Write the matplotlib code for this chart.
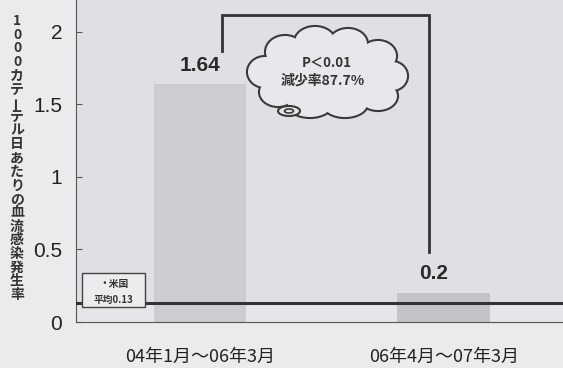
import numpy as np
import matplotlib.pyplot as plt
from matplotlib.patches import Ellipse, Rectangle

# infection rate per 1000 catheter-days, before / after
periods = ['04年1月～06年3月', '06年4月～07年3月']
rates = [1.64, 0.2]
us_mean = 0.13
y_ticks = [0, 0.5, 1, 1.5, 2]
y_label = '1000カテーテル日あたりの血流感染発生率'
p_text = 'P＜0.01'
drop_text = '減少率87.7%'

jp = ['Noto Sans CJK JP', 'DejaVu Sans']

fig = plt.figure(figsize=(5.63, 3.68), dpi=100)
fig.patch.set_facecolor('#ebebee')
ax = fig.add_axes([0.135, 0.125, 0.865, 0.875])
ax.set_facecolor('#dfdfe4')

x = np.arange(len(rates))
ax.bar(x, rates, width=0.38, color=['#cdcdd1', '#c4c4c8'], zorder=2)
ax.set_xlim(-0.51, 1.49)
ax.set_ylim(0, 2.22)

# band below the US mean line
ax.axhspan(0, us_mean, color='#e6e6ea', zorder=1)
ax.bar(x, [us_mean] * len(x), width=0.38, color=['#d8d8dc', '#cfcfd3'], zorder=1.5)
ax.axhline(us_mean, color='#333333', lw=2.2, zorder=3)

for s in ['top', 'right']:
    ax.spines[s].set_visible(False)
ax.spines['left'].set_color('#555555')
ax.spines['bottom'].set_color('#555555')

ax.set_yticks(y_ticks)
ax.set_yticklabels(['0', '0.5', '1', '1.5', '2'], fontsize=15, family='Liberation Sans',
                   color='#222222')
ax.tick_params(axis='y', direction='in', length=4, pad=10, color='#555555')
ax.set_xticks(x)
ax.set_xticklabels(periods, family=jp, fontsize=13, color='#222222')
ax.tick_params(axis='x', length=0, pad=19)

# value labels
ax.text(x[0], rates[0] + 0.06, f'{rates[0]:.2f}', ha='center', va='bottom',
        fontsize=15, fontweight='bold', family='Liberation Sans', color='#2a2a2a')
ax.text(x[1] - 0.04, rates[1] + 0.07, f'{rates[1]:.1f}', ha='center', va='bottom',
        fontsize=15, fontweight='bold', family='Liberation Sans', color='#2a2a2a')

# comparison bracket
ax.plot([x[0] + 0.09, x[0] + 0.09, x[1] - 0.06, x[1] - 0.06],
        [1.87, 2.12, 2.12, 0.48], color='#333333', lw=2, zorder=3,
        solid_joinstyle='miter')

# legend box for the US mean
ax.add_patch(Rectangle((-0.485, 0.1), 0.26, 0.24, facecolor='#ececef',
                       edgecolor='#444444', lw=1, zorder=4))
ax.text(-0.355, 0.262, '・米国', ha='center', va='center', family=jp,
        fontsize=7, fontweight='bold', color='#333333', zorder=5)
ax.text(-0.355, 0.155, '平均0.13', ha='center', va='center', family=jp,
        fontsize=7, fontweight='bold', color='#333333', zorder=5)

# thought cloud in pixel coordinates
ov = fig.add_axes([0, 0, 1, 1], facecolor='none')
ov.set_xlim(0, 563)
ov.set_ylim(368, 0)
ov.axis('off')
puffs = [(265, 72, 34, 30), (285, 52, 38, 32), (315, 42, 40, 30), (348, 44, 38, 30),
         (378, 56, 36, 30), (392, 76, 30, 28), (378, 96, 38, 28), (345, 104, 44, 26),
         (310, 104, 44, 26), (278, 92, 36, 28), (325, 74, 120, 60)]
for cx, cy, w, h in puffs:
    ov.add_patch(Ellipse((cx, cy), w, h, facecolor='none', edgecolor='#3a3a3a', lw=3.0))
for cx, cy, w, h in puffs:
    ov.add_patch(Ellipse((cx, cy), w, h, facecolor='#e8e8ec', edgecolor='none'))
ov.add_patch(Ellipse((289, 111), 22, 10, facecolor='#e8e8ec', edgecolor='#3a3a3a', lw=1.5))
ov.add_patch(Ellipse((289, 111), 9, 4, facecolor='none', edgecolor='#3a3a3a', lw=1.2))
ov.text(327, 63, p_text, ha='center', va='center', fontsize=9.5, family=jp,
        fontweight='bold', color='#333333')
ov.text(323, 81, drop_text, ha='center', va='center', fontsize=10, family=jp,
        fontweight='bold', color='#333333')

# vertical y label, one glyph per row
pitch = 13.7
for i, ch in enumerate(y_label):
    ov.text(17, 21 + i * pitch, ch, ha='center', va='center', family=jp,
            fontsize=10, fontweight='bold', color='#333333',
            rotation=90 if ch == 'ー' else 0)

fig.savefig('out.png', dpi=100, facecolor=fig.get_facecolor())
